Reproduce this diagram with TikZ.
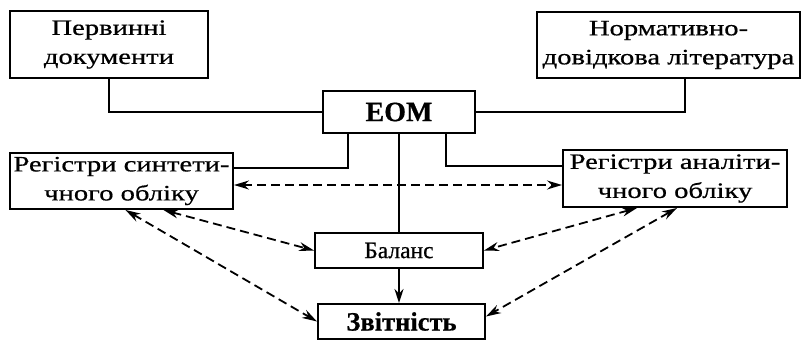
\documentclass[tikz,border=0pt]{standalone}
\usepackage{fontspec}
\setmainfont{Liberation Serif}[FakeStretch=1.3, FakeBold=0.6]
\newfontfamily\plainserif{Liberation Serif}[FakeBold=0.6]
\usetikzlibrary{arrows.meta, positioning, calc}

\begin{document}
\begin{tikzpicture}[
    x=1pt, y=-1pt,
    font=\fontsize{22}{29}\selectfont,
    block/.style={rectangle, draw, line width=2pt, align=center, inner sep=0pt},
    link/.style={line width=2pt},
    arrow/.style={line width=2pt, -{Stealth[length=14pt,width=9pt]}},
    twoway/.style={line width=1.8pt, dash pattern=on 9pt off 5pt, {Stealth[length=15pt,width=9pt]}-{Stealth[length=15pt,width=9pt]}}
]
\useasboundingbox (0,0) rectangle (810,340);

\node[block, minimum width=198pt, minimum height=67pt] (docs) at (109,44.5) {Первинні\\документи};
\node[block, minimum width=263pt, minimum height=66pt] (norm) at (668.5,45) {Нормативно-\\довідкова література};
\node[block, minimum width=152pt, minimum height=42pt, font=\plainserif\fontsize{28}{30}\selectfont\bfseries] (eom) at (399,112) {ЕОМ};
\node[block, minimum width=223pt, minimum height=56pt] (synt) at (121.5,181) {Регістри синтети-\\чного обліку};
\node[block, minimum width=224pt, minimum height=57pt] (anal) at (675,178.5) {Регістри аналіти-\\чного обліку};
\node[block, minimum width=168pt, minimum height=35pt, font=\plainserif\fontsize{23.5}{26}\selectfont] (bal) at (399,250.5) {Баланс};
\node[block, minimum width=167pt, minimum height=35pt, font=\plainserif\fontsize{26.5}{28}\selectfont\bfseries] (zvit) at (401.5,321.5) {Звітність};

\draw[link] (docs.south) |- (eom.west);
\draw[link] (eom.east) -| ([xshift=16pt]norm.south);
\draw[link] ([xshift=-51pt]eom.south) |- ([yshift=13pt]synt.east);
\draw[link] ([xshift=47pt]eom.south) |- ([yshift=12.5pt]anal.west);
\draw[link] (eom.south) -- (bal.north);
\draw[arrow] (bal.south) -- (bal.south |- zvit.north);

\draw[twoway] ([yshift=-4pt]synt.east) -- ([yshift=-4pt]synt.east -| anal.west);
\draw[twoway] ([xshift=42pt]synt.south) -- (bal.west);
\draw[twoway] ([xshift=4pt]synt.south) -- (zvit.west);
\draw[twoway] ([xshift=-38pt]anal.south) -- (bal.east);
\draw[twoway] ([xshift=2pt]anal.south) -- ([yshift=5pt]zvit.east);
\end{tikzpicture}
\end{document}
